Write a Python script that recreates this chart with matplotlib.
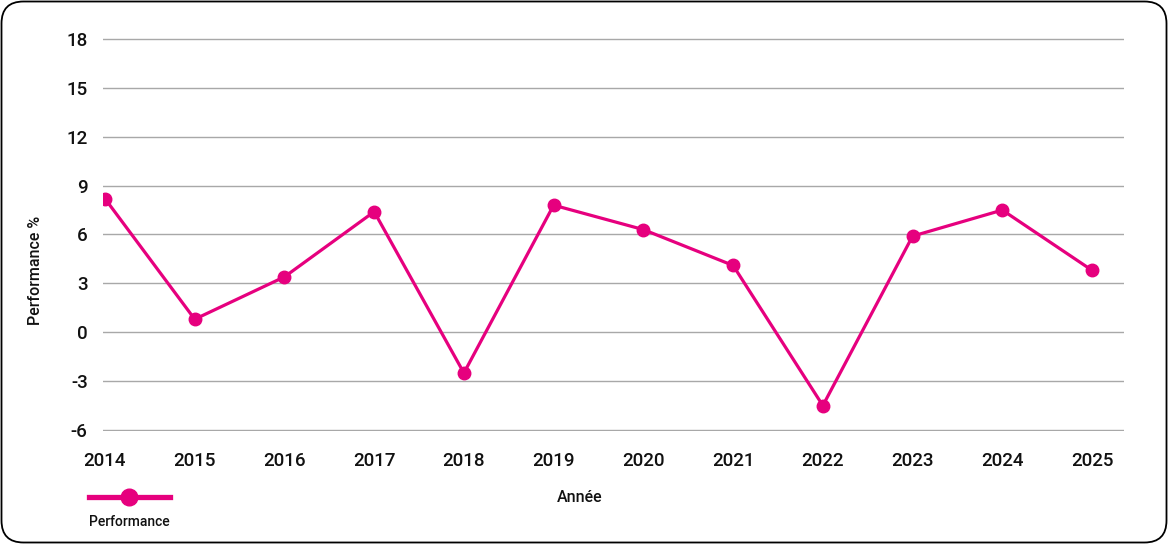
import matplotlib.pyplot as plt
from matplotlib.patches import FancyBboxPatch
from matplotlib.lines import Line2D

# Data
years = ['2014', '2015', '2016', '2017', '2018', '2019',
         '2020', '2021', '2022', '2023', '2024', '2025']
performance = [8.2, 0.8, 3.4, 7.4, -2.5, 7.8, 6.3, 4.1, -4.5, 5.9, 7.5, 3.8]
y_ticks = [-6, -3, 0, 3, 6, 9, 12, 15, 18]

PINK = '#E6007E'
W, H = 1168, 544

plt.rcParams['font.family'] = ['Roboto', 'DejaVu Sans']

fig = plt.figure(figsize=(W / 100, H / 100), dpi=100)

# Rounded frame around the whole chart (inch coordinates)
frame = FancyBboxPatch((0.015, 0.015), W / 100 - 0.03, H / 100 - 0.03,
                       boxstyle='round,pad=0,rounding_size=0.22',
                       transform=fig.dpi_scale_trans, fill=False,
                       edgecolor='black', linewidth=1.3)
fig.patches.append(frame)

ax = fig.add_axes([103 / W, 1 - 431 / H, (1124 - 103) / W, (431 - 38) / H])

x = list(range(len(years)))
ax.plot(x, performance, color=PINK, linewidth=2.3, marker='o',
        markersize=9, zorder=3)

ax.set_ylim(-6.06, 18.06)
ax.set_xlim(-0.022, 11.356)
ax.set_yticks(y_ticks)
ax.set_yticklabels([str(v) for v in y_ticks])
ax.set_xticks(x)
ax.set_xticklabels(years)

ax.grid(axis='y', color='#a8a8a8', linewidth=1.0)
ax.set_axisbelow(True)
for s in ax.spines.values():
    s.set_visible(False)
ax.tick_params(axis='both', length=0, labelsize=13.5, labelcolor='#111111')
ax.tick_params(axis='x', pad=15)
ax.tick_params(axis='y', pad=11)
for lbl in ax.get_xticklabels() + ax.get_yticklabels():
    lbl.set_fontweight('medium')

fig.text(35 / W, 1 - 270 / H, 'Performance %', rotation=90,
         ha='center', va='center', fontsize=11.5, fontweight='medium',
         color='#111111')
fig.text(580 / W, 1 - 497 / H, 'Année', ha='center', va='center',
         fontsize=11.5, fontweight='medium', color='#111111')

# Legend (drawn below the axis, left side)
fig.lines.append(Line2D([89 / W, 170 / W], [1 - 497 / H, 1 - 497 / H],
                        transform=fig.transFigure, color=PINK, linewidth=3.8))
fig.lines.append(Line2D([129 / W], [1 - 497 / H], transform=fig.transFigure,
                        color=PINK, marker='o', markersize=12, linestyle='none'))
fig.text(89 / W, 1 - 522 / H, 'Performance', ha='left', va='center',
         fontsize=10, fontweight='medium', color='#111111')

fig.savefig('out.png', dpi=100)
